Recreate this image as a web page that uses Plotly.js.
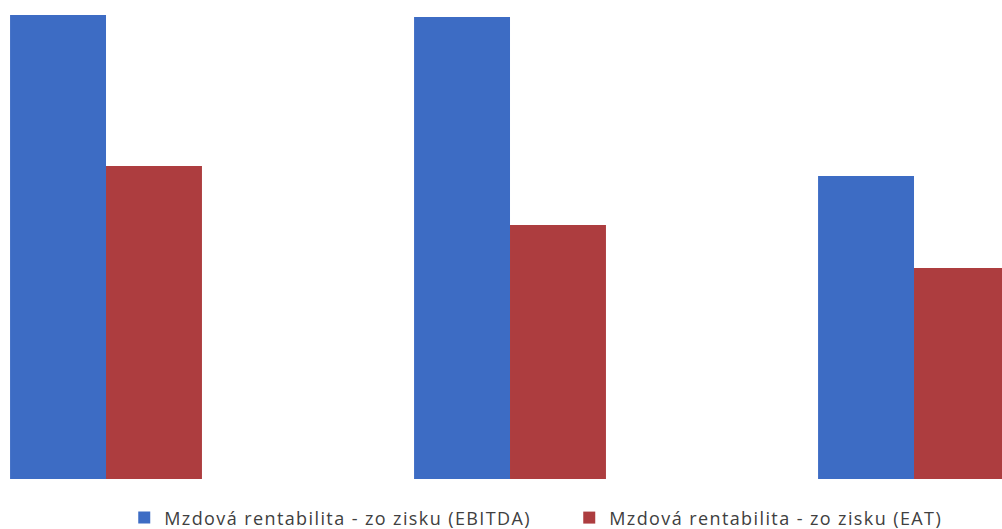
<!DOCTYPE html>
<html>
<head>
<meta charset="utf-8">
<script src="https://cdn.plot.ly/plotly-3.0.1.min.js"></script>
<style>
html,body{margin:0;padding:0;background:#fff;}
#chart{width:1002px;height:529px;}
#chart .legendtext{letter-spacing:1.4px;}
</style>
</head>
<body>
<div id="chart"></div>
<script>
const categories = [0, 1, 2];
const seriesNames = ['Mzdová rentabilita - zo zisku (EBITDA)', 'Mzdová rentabilita - zo zisku (EAT)'];
const ebitdaValues = [46.4, 46.2, 30.3];
const eatValues = [31.3, 25.4, 21.1];
const seriesColors = ['#3D6CC4', '#AD3D3F'];

const traces = [
  {type: 'bar', x: categories, y: ebitdaValues, name: seriesNames[0], marker: {color: seriesColors[0]}, hoverinfo: 'none'},
  {type: 'bar', x: categories, y: eatValues, name: seriesNames[1], marker: {color: seriesColors[1]}, hoverinfo: 'none'}
];

const layout = {
  width: 1002, height: 529,
  margin: {l: 0, r: 0, t: 0, b: 50},
  paper_bgcolor: '#fff', plot_bgcolor: '#fff',
  barmode: 'group', bargap: 0.525, bargroupgap: 0,
  xaxis: {range: [-0.2624, 2.2178], visible: false, fixedrange: true},
  yaxis: {range: [0, 47.9], visible: false, fixedrange: true},
  showlegend: true,
  legend: {
    orientation: 'h', xref: 'container', yref: 'container',
    x: 0.124, xanchor: 'left', y: 0.021, yanchor: 'middle',
    entrywidth: 400, entrywidthmode: 'pixels',
    font: {family: '"Open Sans", sans-serif', size: 18, color: '#404040'},
    itemwidth: 30, bgcolor: 'rgba(0,0,0,0)'
  },
  font: {family: '"Open Sans", sans-serif'}
};

Plotly.newPlot('chart', traces, layout, {displayModeBar: false, staticPlot: true});
</script>
</body>
</html>
